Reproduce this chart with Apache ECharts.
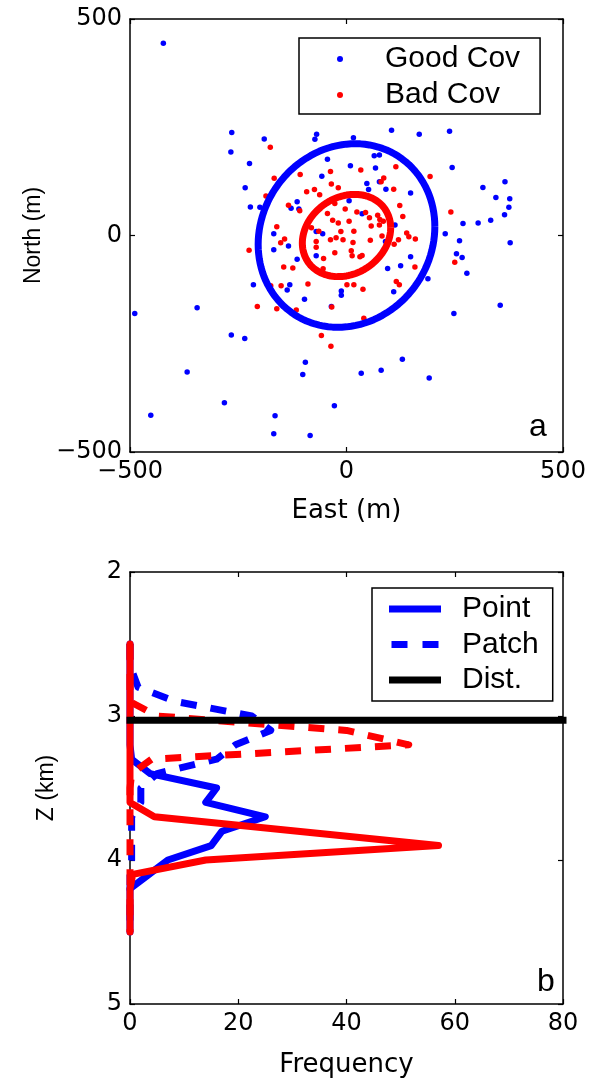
<!DOCTYPE html>
<html>
<head>
<meta charset="utf-8">
<script src="https://cdn.jsdelivr.net/npm/echarts@6/dist/echarts.min.js"></script>
<style>
html,body{margin:0;padding:0;background:#fff;}
#chart{width:590px;height:1082px;}
</style>
</head>
<body>
<div id="chart"></div>
<script>
// ---------- Panel a: epicentre scatter (East, North in m) ----------
const goodCovEast  = [-423,-265,-267,-190,-224,-234,-222,-200,-69,-73,16,-44,9,-57,-114,-128,-110,6,-165,-168,-70,-55,104,168,238,64,76,67,244,47,76,51,91,148,36,112,228,-134,-168,-114,-70,-215,-131,-137,-97,-35,-12,-12,-266,-235,261,254,148,125,95,188,109,248,90,315,366,345,377,375,365,333,304,269,378,267,278,355,129,80,34,191,-489,-345,-368,-282,-452,-95,-101,-28,-165,-168,-84];
const goodCovNorth = [444,238,193,223,166,110,66,65,234,222,226,176,161,137,78,63,61,80,107,4,9,4,243,234,241,184,186,156,157,120,124,106,107,98,50,24,4,-24,-33,-55,-47,-114,-114,-126,-147,-164,-128,-138,-230,-238,-12,-42,-49,-70,-76,-100,-130,-180,-14,111,124,88,85,65,48,35,29,28,-17,-51,-87,-161,-286,-311,-318,-329,-180,-167,-315,-386,-415,-293,-321,-393,-416,-458,-462];
const badCovEast  = [-176,-167,-107,-37,-186,-92,-74,-62,-35,-19,-134,-108,-44,-32,-19,-161,-81,-64,-13,33,114,193,86,80,109,123,130,241,-3,24,44,53,72,77,85,6,57,76,17,139,-152,-143,-225,-70,-70,-53,-27,-37,-24,-8,-145,-124,-175,-151,-89,-206,-161,-116,-34,-58,-36,-54,15,55,11,13,36,31,144,159,120,110,82,158,250,115,122,1,17,38,40,-27];
const badCovNorth = [204,132,141,148,91,101,106,94,119,110,70,57,51,35,29,20,18,10,9,151,159,136,133,124,107,69,44,54,61,54,53,41,47,37,33,33,22,24,10,6,-17,-8,-34,-14,-27,-53,-40,-10,-5,-10,-73,-75,-116,-116,-112,-164,-169,-172,-165,-231,-256,-77,-16,-11,-35,-47,-46,-49,-3,-8,-10,-20,-1,-73,-62,-106,-114,-114,-114,-124,-191,74];
// error ellipses: centre [E, N], spread [sE, sN, covEN]
const goodEllipseCentre = [0, 0];
const goodEllipseSpread = [204, 212, 4200];
const badEllipseCentre  = [0, 0];
const badEllipseSpread  = [102, 95, 1800];
const mapTicks = [-500, 0, 500];

// ---------- Panel b: depth histograms ----------
const depthBins = [2.5,2.6,2.7,2.8,2.9,3.0,3.1,3.2,3.3,3.4,3.5,3.6,3.7,3.8,3.9,4.0,4.1,4.2,4.3,4.4,4.5];
const pointGood = [0,0,0,0,0,0,0,0,0.3,3.7,16,14,25,17,15,7,3.5,0,0,0,0];
const patchGood = [0,0,0.5,1.5,8.5,22.5,26,19.5,16,5,2,2,0.3,0.3,0.3,0.3,0,0,0,0,0];
const pointBad  = [0,0,0,0,0,0,0,0,0,0,0,0,4.5,31,57,14,0.5,0,0,0,0];
const patchBad  = [0,0,0,0,0,5,40,51.5,4,0.3,0,0,0,0,0,0,0,0,0,0,0];
const distDepth = 3.03;
const freqRange = [0, 80];
const depthRange = [2, 5];

const FONT = 'DejaVu Sans';
const LFONT = 'Liberation Sans';
const FS = 24;

function zip(a, b) { return a.map((v, i) => [v, b[i]]); }
function ellipse(c, s) {
  const [sx, sy, cxy] = s;
  const a21 = cxy / sx, a22 = Math.sqrt(sy * sy - a21 * a21);
  const pts = [];
  for (let d = 0; d <= 360; d += 3) {
    const t = d * Math.PI / 180;
    pts.push([c[0] + sx * Math.cos(t), c[1] + a21 * Math.cos(t) + a22 * Math.sin(t)]);
  }
  return pts;
}
function fmt(v) { return v < 0 ? '\u2212' + Math.abs(v) : String(v); }

const chart = echarts.init(document.getElementById('chart'), null, {renderer: 'canvas'});

function ax(extra, nameFont) {
  return Object.assign({
    axisLine: {show: true, onZero: false, lineStyle: {color: '#000', width: 1.5}},
    axisTick: {show: true, inside: true, length: 5, lineStyle: {color: '#000', width: 1.2}},
    splitLine: {show: false},
    axisLabel: {color: '#000', fontFamily: FONT, fontSize: FS, formatter: fmt},
    nameTextStyle: nameFont || {color: '#000', fontFamily: FONT, fontSize: 26}
  }, extra);
}
const rotName = {color: '#000', fontFamily: LFONT, fontSize: 23};
const noLabel = {show: false};

const option = {
  animation: false,
  backgroundColor: '#fff',
  grid: [
    {left: 130, top: 19, width: 433, height: 433, outerBoundsMode: 'none', containLabel: false},
    {left: 130, top: 572, width: 433, height: 432, outerBoundsMode: 'none', containLabel: false}
  ],
  xAxis: [
    ax({type: 'value', gridIndex: 0, position: 'bottom', min: -500, max: 500, interval: 500,
        name: 'East (m)', nameLocation: 'middle', nameGap: 46}),
    ax({type: 'value', gridIndex: 0, position: 'top', min: -500, max: 500, interval: 500, axisLabel: noLabel}),
    ax({type: 'value', gridIndex: 1, position: 'bottom', min: freqRange[0], max: freqRange[1], interval: 20,
        name: 'Frequency', nameLocation: 'middle', nameGap: 48}),
    ax({type: 'value', gridIndex: 1, position: 'top', min: freqRange[0], max: freqRange[1], interval: 20, axisLabel: noLabel})
  ],
  yAxis: [
    ax({type: 'value', gridIndex: 0, position: 'left', min: -500, max: 500, interval: 500,
        name: 'North (m)', nameLocation: 'middle', nameGap: 74, nameRotate: 90}, rotName),
    ax({type: 'value', gridIndex: 0, position: 'right', min: -500, max: 500, interval: 500, axisLabel: noLabel}),
    ax({type: 'value', gridIndex: 1, position: 'left', min: depthRange[0], max: depthRange[1], interval: 1, inverse: true,
        name: 'Z (km)', nameLocation: 'middle', nameGap: 72, nameRotate: 90}, rotName),
    ax({type: 'value', gridIndex: 1, position: 'right', min: depthRange[0], max: depthRange[1], interval: 1, inverse: true, axisLabel: noLabel})
  ],
  legend: [
    {
      data: ['Good Cov', 'Bad Cov'], orient: 'vertical', left: 299, top: 38,
      padding: [6, 20, 4, 38], itemGap: 6, itemWidth: 6, itemHeight: 6, icon: 'circle',
      borderColor: '#000', borderWidth: 1.5, backgroundColor: '#fff', selectedMode: false,
      textStyle: {color: '#000', fontFamily: LFONT, fontSize: 30, lineHeight: 30, padding: [0, 0, 0, 37]}
    },
    {
      data: [
        {name: 'Point', icon: 'path://M0,0H52V7H0Z'},
        {name: 'Patch', icon: 'path://M0,0H16V7H0Z M31,0H47V7H31Z'},
        {name: 'Dist.', icon: 'path://M0,0H52V7H0Z'}
      ],
      orient: 'vertical', left: 372, top: 588,
      padding: [6, 14, 6, 17], itemGap: 5.5, itemWidth: 52, itemHeight: 7,
      borderColor: '#000', borderWidth: 1.5, backgroundColor: '#fff', selectedMode: false,
      textStyle: {color: '#000', fontFamily: LFONT, fontSize: 30, lineHeight: 30, padding: [0, 0, 0, 16]}
    }
  ],
  graphic: [
    {type: 'text', left: 529, top: 411, style: {text: 'a', fill: '#000', font: '32px "' + LFONT + '"'}},
    {type: 'text', left: 537, top: 966, style: {text: 'b', fill: '#000', font: '32px "' + LFONT + '"'}}
  ],
  series: [
    {name: 'Good Cov', type: 'scatter', xAxisIndex: 0, yAxisIndex: 0, symbol: 'circle', symbolSize: 5.5,
     itemStyle: {color: '#0000ff', opacity: 1}, data: zip(goodCovEast, goodCovNorth), z: 2},
    {name: 'Bad Cov', type: 'scatter', xAxisIndex: 0, yAxisIndex: 0, symbol: 'circle', symbolSize: 5.5,
     itemStyle: {color: '#ff0000', opacity: 1}, data: zip(badCovEast, badCovNorth), z: 2},
    {name: 'goodEllipse', type: 'line', xAxisIndex: 0, yAxisIndex: 0, symbol: 'none', smooth: false,
     lineStyle: {color: '#0000ff', width: 7, join: 'round'}, data: ellipse(goodEllipseCentre, goodEllipseSpread), z: 3},
    {name: 'badEllipse', type: 'line', xAxisIndex: 0, yAxisIndex: 0, symbol: 'none', smooth: false,
     lineStyle: {color: '#ff0000', width: 7, join: 'round'}, data: ellipse(badEllipseCentre, badEllipseSpread), z: 4},

    {name: 'Point', type: 'line', xAxisIndex: 2, yAxisIndex: 2, symbol: 'none', itemStyle: {color: '#0000ff'},
     lineStyle: {color: '#0000ff', width: 7, join: 'round', cap: 'round'}, data: zip(pointGood, depthBins), z: 2},
    {name: 'Patch', type: 'line', xAxisIndex: 2, yAxisIndex: 2, symbol: 'none', itemStyle: {color: '#0000ff'},
     lineStyle: {color: '#0000ff', width: 7, type: [16, 14], join: 'round', cap: 'butt'}, data: zip(patchGood, depthBins), z: 2},
    {name: 'PointBad', type: 'line', xAxisIndex: 2, yAxisIndex: 2, symbol: 'none', itemStyle: {color: '#ff0000'},
     lineStyle: {color: '#ff0000', width: 7, join: 'round', cap: 'round'}, data: zip(pointBad, depthBins), z: 3},
    {name: 'PatchBad', type: 'line', xAxisIndex: 2, yAxisIndex: 2, symbol: 'none', itemStyle: {color: '#ff0000'},
     lineStyle: {color: '#ff0000', width: 7, type: [16, 14], join: 'round', cap: 'butt'}, data: zip(patchBad, depthBins), z: 3},
    {name: 'Dist.', type: 'line', xAxisIndex: 2, yAxisIndex: 2, symbol: 'none', clip: false, itemStyle: {color: '#000'},
     lineStyle: {color: '#000', width: 7, cap: 'square'}, data: [[freqRange[0], distDepth], [freqRange[1], distDepth]], z: 4}
  ]
};
chart.setOption(option);
</script>
</body>
</html>
